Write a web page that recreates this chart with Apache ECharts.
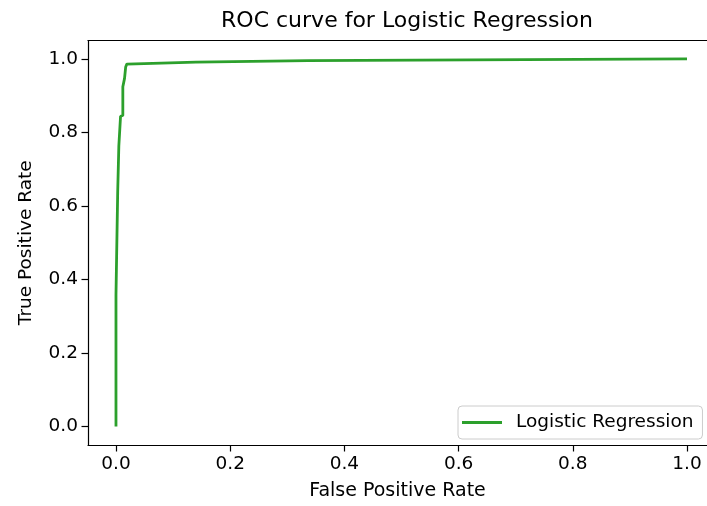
<!DOCTYPE html>
<html>
<head>
<meta charset="utf-8">
<script src="https://cdn.jsdelivr.net/npm/echarts@6/dist/echarts.min.js"></script>
<style>
html,body{margin:0;padding:0;background:#fff;}
#chart{width:707px;height:506px;}
</style>
</head>
<body>
<div id="chart"></div>
<script>
// ROC curve points
var fpr = [0, 0, 0.003, 0.003, 0.005, 0.005, 0.008, 0.008, 0.012, 0.012, 0.015, 0.015, 0.017, 0.017, 0.019, 0.022, 0.14, 0.142, 0.336, 0.338, 1.0];
var tpr = [0, 0.358, 0.36, 0.638, 0.64, 0.763, 0.765, 0.844, 0.846, 0.924, 0.926, 0.947, 0.95, 0.978, 0.986, 0.991, 0.991, 0.995, 0.995, 1.0, 1.0];
var xTicks = [0, 0.2, 0.4, 0.6, 0.8, 1.0];
var yTicks = [0, 0.2, 0.4, 0.6, 0.8, 1.0];
var seriesName = 'Logistic Regression';

var pts = fpr.map(function (x, i) { return [x, tpr[i]]; });
var FONT = 'DejaVu Sans';
var chart = echarts.init(document.getElementById('chart'));
chart.setOption({
  animation: false,
  backgroundColor: '#fff',
  title: {
    text: 'ROC curve for Logistic Regression',
    left: 402, top: 5, textAlign: 'center',
    textStyle: {fontFamily: FONT, fontSize: 22, fontWeight: 'normal', color: '#000'}
  },
  grid: {left: 88, right: 0, top: 40.5, bottom: 56, show: false, containLabel: false},
  legend: {
    data: [{name: seriesName, icon: 'rect'}],
    left: 458, top: 406,
    padding: [7, 9, 7, 4],
    itemWidth: 40, itemHeight: 3,
    borderColor: '#ccc', borderWidth: 1, borderRadius: 4,
    backgroundColor: 'rgba(255,255,255,0.8)',
    textStyle: {fontFamily: FONT, fontSize: 18.5, color: '#000', padding: [0, 0, 0, 9]}
  },
  xAxis: [{
    type: 'value', min: -0.049, max: 1.035,
    name: 'False Positive Rate', nameLocation: 'middle', nameGap: 37,
    nameTextStyle: {fontFamily: FONT, fontSize: 19, color: '#000'},
    axisLine: {show: true, onZero: false, lineStyle: {color: '#000', width: 1.2}},
    axisTick: {show: true, length: 6.5, customValues: xTicks, lineStyle: {color: '#000', width: 1.2}},
    axisLabel: {customValues: xTicks, margin: 10, fontFamily: FONT, fontSize: 18.5, color: '#000',
      formatter: function (v) { return v.toFixed(1); }},
    splitLine: {show: false}
  }, {
    type: 'value', position: 'top', min: -0.049, max: 1.035,
    axisLine: {show: true, onZero: false, lineStyle: {color: '#000', width: 1.2}},
    axisTick: {show: false}, axisLabel: {show: false}, splitLine: {show: false}
  }],
  yAxis: {
    type: 'value', min: -0.05, max: 1.05,
    name: 'True Positive Rate', nameLocation: 'middle', nameGap: 52,
    nameTextStyle: {fontFamily: FONT, fontSize: 18.5, color: '#000'},
    axisLine: {show: true, onZero: false, lineStyle: {color: '#000', width: 1.2}},
    axisTick: {show: true, length: 6.5, customValues: yTicks, lineStyle: {color: '#000', width: 1.2}},
    axisLabel: {customValues: yTicks, margin: 10, fontFamily: FONT, fontSize: 18.5, color: '#000',
      formatter: function (v) { return v.toFixed(1); }},
    splitLine: {show: false}
  },
  series: [{
    name: seriesName,
    type: 'line',
    xAxisIndex: 0,
    data: pts,
    symbol: 'none',
    lineStyle: {color: '#2ca02c', width: 2.8},
    itemStyle: {color: '#2ca02c'}
  }]
});
</script>
</body>
</html>
